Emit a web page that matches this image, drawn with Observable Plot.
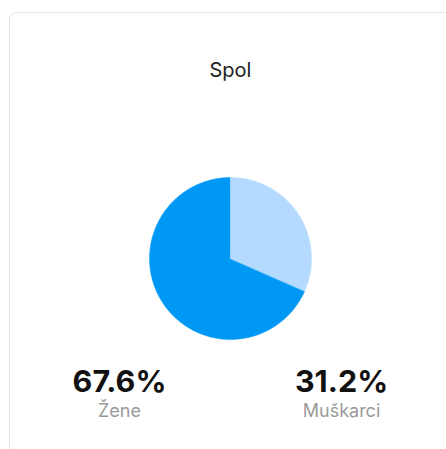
<!DOCTYPE html>
<html>
<head>
<meta charset="utf-8">
<script src="https://cdn.jsdelivr.net/npm/d3@7"></script>
<script src="https://cdn.jsdelivr.net/npm/@observablehq/plot@0.6"></script>
<style>
  html, body { margin: 0; padding: 0; background: #fff; }
  body { width: 446px; height: 449px; position: relative; overflow: hidden; font-family: Inter, "Open Sans", sans-serif; }
  #card { position: absolute; left: 9px; top: 12px; width: 470px; height: 470px; border: 1px solid #e4e4e4; border-radius: 7px; box-sizing: border-box; }
  #title { position: absolute; left: 0; width: 461px; top: 60px; text-align: center; font-size: 20px; line-height: 20px; color: #222; }
  #pie { position: absolute; left: 145px; top: 173px; }
  .col { position: absolute; width: 160px; text-align: center; }
  .val { position: absolute; left: 0; width: 160px; font-size: 30.5px; line-height: 30px; font-weight: 700; color: #111; top: 366px; }
  .lab { position: absolute; left: 0; width: 160px; font-size: 18px; line-height: 18px; color: #9a9a9a; top: 402px; }
</style>
</head>
<body>
<div id="card"></div>
<div id="title"></div>
<div id="pie"></div>
<script>
const title = "Spol";
const categories = ["Žene", "Muškarci"];
const values = [67.6, 31.2];
const colors = ["#0098f5", "#b4dbff"];

document.getElementById("title").textContent = title;

// Slices drawn starting at 12 o'clock, clockwise: Muškarci first, then Žene
const order = [1, 0];
const pie = d3.pie().sort(null).value(i => values[i])(order);

const rows = [];
for (const arc of pie) {
  const i = arc.data;
  const steps = Math.max(2, Math.ceil((arc.endAngle - arc.startAngle) / 0.01));
  rows.push({cat: categories[i], k: 0, x: 0, y: 0});
  d3.range(steps + 1).forEach(s => {
    const a = arc.startAngle + (arc.endAngle - arc.startAngle) * s / steps;
    rows.push({cat: categories[i], k: s + 1, x: Math.sin(a), y: Math.cos(a)});
  });
}

const chart = Plot.plot({
  width: 170,
  height: 170,
  margin: 4,
  x: {domain: [-1, 1], axis: null},
  y: {domain: [-1, 1], axis: null},
  color: {domain: categories, range: colors},
  marks: categories.map(c =>
    Plot.line(rows.filter(r => r.cat === c), {
      x: "x", y: "y", fill: "cat", stroke: "cat", strokeWidth: 0.5, curve: "linear-closed"
    })
  )
});
document.getElementById("pie").appendChild(chart);

// Value / label blocks, centred under each column
const centers = [119.5, 341.5];
categories.forEach((c, i) => {
  const col = document.createElement("div");
  col.className = "col";
  col.style.left = (centers[i] - 80) + "px";
  col.style.top = "0px";
  const v = document.createElement("div");
  v.className = "val";
  v.textContent = values[i].toFixed(1) + "%";
  const l = document.createElement("div");
  l.className = "lab";
  l.textContent = c;
  col.appendChild(v);
  col.appendChild(l);
  document.body.appendChild(col);
});
</script>
</body>
</html>
